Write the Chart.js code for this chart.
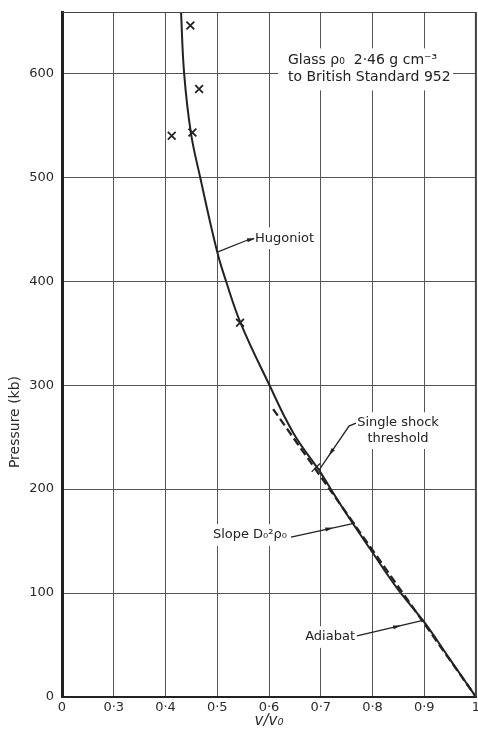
<!DOCTYPE html>
<html><head><meta charset="utf-8">
<script src="https://cdn.jsdelivr.net/npm/chart.js@4.4.1/dist/chart.umd.min.js"></script>
<style>html,body{margin:0;padding:0;background:#fff}#wrap{width:478px;height:742px}</style>
</head><body><div id="wrap"><canvas id="c" width="478" height="742"></canvas></div>
<script>
// ---- data ----
const xTickValues = [0.2, 0.3, 0.4, 0.5, 0.6, 0.7, 0.8, 0.9, 1.0];
const xTickLabels = ['0', '0·3', '0·4', '0·5', '0·6', '0·7', '0·8', '0·9', '1'];
const yTickValues = [0, 100, 200, 300, 400, 500, 600];
const yTickLabels = ['0', '100', '200', '300', '400', '500', '600'];

const hugoniotV = [0.430, 0.436, 0.449, 0.467, 0.500, 0.517, 0.545, 0.598, 0.647, 0.697];
const hugoniotP = [659, 600, 543, 500, 428, 400, 360, 303, 254, 218];

const adiabatV = [0.697, 0.75, 0.80, 0.85, 0.90, 0.95, 1.00];
const adiabatP = [218, 176, 139, 103, 72, 36, 0];

const slopeV = [0.608, 1.0];
const slopeP = [277, 0];

const crossV = [0.448, 0.465, 0.412, 0.452, 0.544];
const crossP = [646, 585, 540, 543, 360];

const toXY = (xs, ys) => xs.map((x, i) => ({x: x, y: ys[i]}));

const FONT = '"DejaVu Sans", "Noto Sans", sans-serif';
const INK = '#222222';

// ---- annotations (anchors in data coordinates) ----
const notes = [
  {lines: ['Glass ρ₀  2·46 g cm⁻³', 'to British Standard 952'], v: 0.6367, p: [612.5, 596.6], align: 'left', size: 14,
   box: [0.6174, 624, 0.9556, 583.6]},
  {lines: ['Hugoniot'], v: 0.573, p: [441.3], align: 'left', size: 13,
   leader: [[0.500, 428], [0.5575, 439.4], [0.571, 440.9]]},
  {lines: ['Single shock', 'threshold'], v: 0.8493, p: [263.5, 249], align: 'center', size: 13,
   leader: [[0.768, 263.5], [0.7546, 260.6], [0.6966, 218.3]], slash: [[0.6825, 216.6], [0.6986, 224.7]]},
  {lines: ['Slope D₀²ρ₀'], v: 0.6348, p: [155.8], align: 'right', size: 13,
   leader: [[0.6425, 153.8], [0.7662, 167.3]]},
  {lines: ['Adiabat'], v: 0.7662, p: [57.7], align: 'right', size: 13,
   leader: [[0.770, 58.7], [0.8995, 74]]}
];

function textBox(ctx, sx, sy, n) {
  ctx.font = n.size + 'px ' + FONT;
  let minX = 1e9, maxX = -1e9, minY = 1e9, maxY = -1e9;
  n.lines.forEach((t, i) => {
    const w = ctx.measureText(t).width;
    const cx = sx.getPixelForValue(n.v);
    const cy = sy.getPixelForValue(n.p[i]);
    let l = n.align === 'left' ? cx : n.align === 'right' ? cx - w : cx - w / 2;
    minX = Math.min(minX, l); maxX = Math.max(maxX, l + w);
    minY = Math.min(minY, cy - n.size * 0.6); maxY = Math.max(maxY, cy + n.size * 0.6);
  });
  return [minX - 4, minY - 3, maxX + 4, maxY + 3];
}

const annotPlugin = {
  id: 'annot',
  beforeDatasetsDraw(chart) {
    const ctx = chart.ctx, sx = chart.scales.x, sy = chart.scales.y;
    ctx.save();
    ctx.fillStyle = '#ffffff';
    notes.forEach(n => {
      let b;
      if (n.box) {
        b = [sx.getPixelForValue(n.box[0]), sy.getPixelForValue(n.box[1]), sx.getPixelForValue(n.box[2]), sy.getPixelForValue(n.box[3])];
      } else {
        b = textBox(ctx, sx, sy, n);
      }
      ctx.fillRect(b[0], b[1], b[2] - b[0], b[3] - b[1]);
    });
    ctx.restore();
  },
  afterDatasetsDraw(chart) {
    const ctx = chart.ctx, sx = chart.scales.x, sy = chart.scales.y, a = chart.chartArea;
    ctx.save();
    // top and right frame
    ctx.strokeStyle = '#444';
    ctx.lineWidth = 1.2;
    ctx.beginPath();
    ctx.moveTo(a.left, a.top + 0.5); ctx.lineTo(a.right - 0.5, a.top + 0.5); ctx.lineTo(a.right - 0.5, a.bottom);
    ctx.stroke();
    // leaders
    ctx.strokeStyle = INK; ctx.fillStyle = INK; ctx.lineWidth = 1.3;
    notes.forEach(n => {
      if (n.leader) {
        const pts = n.leader.map(q => [sx.getPixelForValue(q[0]), sy.getPixelForValue(q[1])]);
        ctx.beginPath();
        ctx.moveTo(pts[0][0], pts[0][1]);
        for (let i = 1; i < pts.length; i++) ctx.lineTo(pts[i][0], pts[i][1]);
        ctx.stroke();
        const p0 = pts[pts.length - 2], p1 = pts[pts.length - 1];
        const ang = Math.atan2(p1[1] - p0[1], p1[0] - p0[0]);
        const mx = p0[0] + (p1[0] - p0[0]) * 0.6, my = p0[1] + (p1[1] - p0[1]) * 0.6;
        ctx.beginPath();
        ctx.moveTo(mx + 4 * Math.cos(ang), my + 4 * Math.sin(ang));
        ctx.lineTo(mx - 4 * Math.cos(ang) + 2 * Math.sin(ang), my - 4 * Math.sin(ang) - 2 * Math.cos(ang));
        ctx.lineTo(mx - 4 * Math.cos(ang) - 2 * Math.sin(ang), my - 4 * Math.sin(ang) + 2 * Math.cos(ang));
        ctx.closePath(); ctx.fill();
      }
      if (n.slash) {
        ctx.beginPath();
        ctx.moveTo(sx.getPixelForValue(n.slash[0][0]), sy.getPixelForValue(n.slash[0][1]));
        ctx.lineTo(sx.getPixelForValue(n.slash[1][0]), sy.getPixelForValue(n.slash[1][1]));
        ctx.stroke();
      }
      ctx.font = n.size + 'px ' + FONT;
      ctx.textAlign = n.align;
      ctx.textBaseline = 'middle';
      n.lines.forEach((t, i) => ctx.fillText(t, sx.getPixelForValue(n.v), sy.getPixelForValue(n.p[i])));
    });
    // y-axis title
    ctx.translate(15, 422);
    ctx.rotate(-Math.PI / 2);
    ctx.font = '14px ' + FONT;
    ctx.textAlign = 'center';
    ctx.textBaseline = 'middle';
    ctx.fillStyle = '#2a2a2a';
    ctx.fillText('Pressure (kb)', 0, 0);
    ctx.restore();
  }
};

new Chart(document.getElementById('c'), {
  type: 'scatter',
  data: {
    datasets: [
      {label: 'Hugoniot', data: toXY(hugoniotV, hugoniotP), showLine: true, borderColor: INK, borderWidth: 2,
       pointRadius: 0, tension: 0.4},
      {label: 'Adiabat', data: toXY(adiabatV, adiabatP), showLine: true, borderColor: INK, borderWidth: 2,
       pointRadius: 0, tension: 0.4},
      {label: 'Slope', data: toXY(slopeV, slopeP), showLine: true, borderColor: INK, borderWidth: 2.3,
       borderDash: [8, 4], pointRadius: 0},
      {label: 'Experiment', data: toXY(crossV, crossP), showLine: false, pointStyle: 'crossRot', pointRadius: 5.5,
       borderColor: INK, pointBorderWidth: 1.8, pointBorderColor: INK}
    ]
  },
  options: {
    responsive: false,
    animation: false,
    devicePixelRatio: 1,
    layout: {autoPadding: false, padding: {top: 12, right: 2, left: 0, bottom: 0}},
    plugins: {legend: {display: false}, tooltip: {enabled: false}},
    scales: {
      x: {
        type: 'linear', min: 0.2, max: 1.0,
        afterBuildTicks: s => { s.ticks = xTickValues.map(v => ({value: v})); },
        afterFit: s => { s.height = 45; s.paddingLeft = 0; s.paddingRight = 0; },
        ticks: {callback: (v, i) => xTickLabels[i], font: {family: FONT, size: 13}, color: '#2a2a2a', padding: 3,
                maxRotation: 0, autoSkip: false},
        grid: {color: '#555', lineWidth: 1, drawTicks: false},
        border: {color: INK, width: 2},
        title: {display: true, text: 'v/v₀', font: {family: FONT, size: 15, style: 'italic'}, color: '#2a2a2a', padding: 12}
      },
      y: {
        type: 'linear', min: 0, max: 659,
        afterBuildTicks: s => { s.ticks = yTickValues.map(v => ({value: v})); },
        afterFit: s => { s.width = 62; s.paddingTop = 0; s.paddingBottom = 0; },
        ticks: {callback: (v, i) => yTickLabels[i], font: {family: FONT, size: 13}, color: '#2a2a2a', padding: 8},
        grid: {color: '#555', lineWidth: 1, drawTicks: false},
        border: {color: INK, width: 3}
      }
    }
  },
  plugins: [annotPlugin]
});
</script></body></html>
